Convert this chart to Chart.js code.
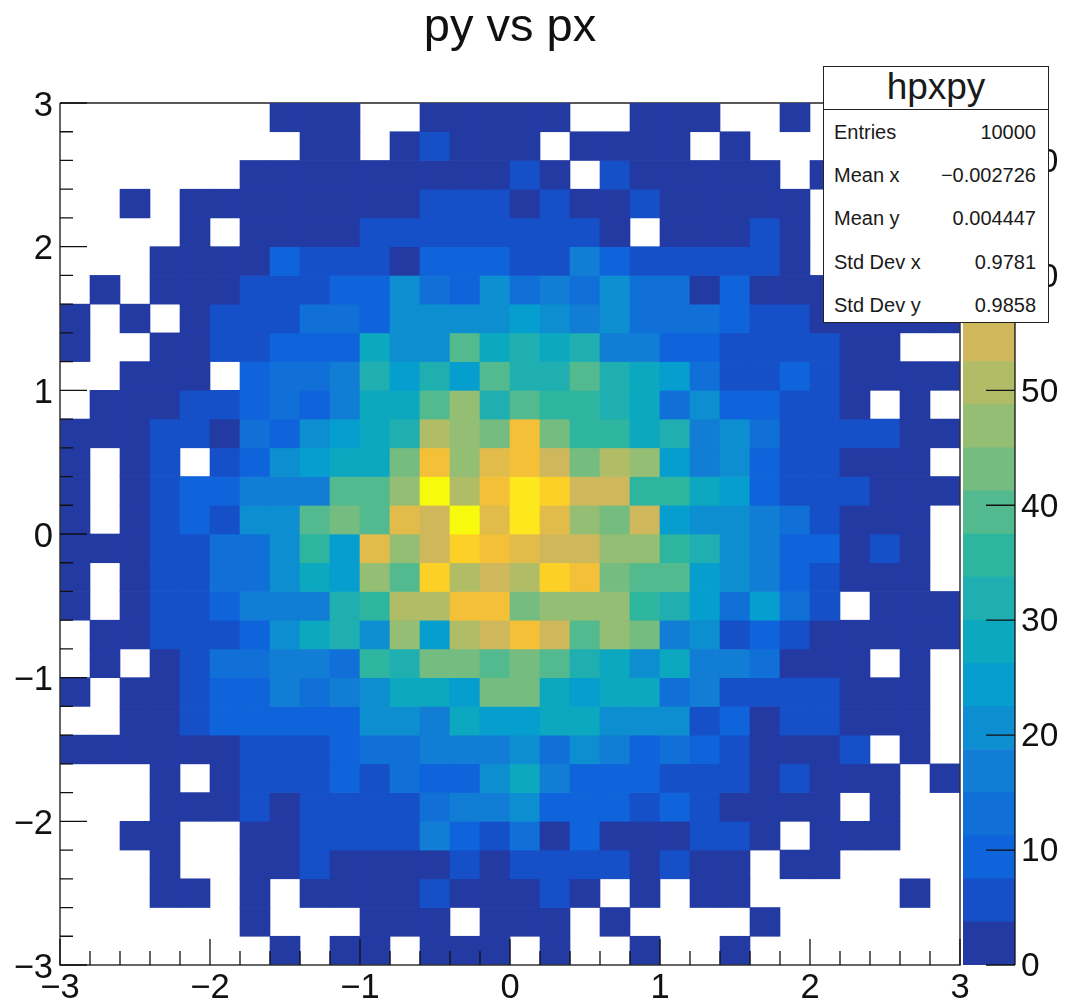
<!DOCTYPE html>
<html>
<head>
<meta charset="utf-8">
<title>py vs px</title>
<script src="https://cdn.jsdelivr.net/npm/chart.js@4"></script>
<style>
  html, body { margin: 0; padding: 0; background: #fff; }
  #wrap { position: relative; width: 1067px; height: 1005px; overflow: hidden; font-family: "Liberation Sans", sans-serif; color: #1a1a1a; }
  canvas { position: absolute; top: 0; display: block; }
  #hist { left: 0; }
  #palette { left: 963px; }
  #stats { position: absolute; left: 823px; top: 66px; width: 226px; height: 257px; background: #fff; border: 1.5px solid #222; box-sizing: border-box; z-index: 5; }
  #stats .name { position: absolute; left: 0; right: 0; top: 0; height: 42px; line-height: 39px; border-bottom: 1.5px solid #222; text-align: center; font-size: 37px; }
  #stats .row { position: absolute; left: 10px; right: 12px; height: 24px; line-height: 24px; font-size: 20px; display: flex; justify-content: space-between; }
</style>
</head>
<body>
<div id="wrap">
  <canvas id="hist" width="1067" height="1005"></canvas>
  <canvas id="palette" width="104" height="1005"></canvas>
  <div id="stats"></div>
</div>
<script>
var title = 'py vs px';
var histName = 'hpxpy';
var statLabels = ['Entries', 'Mean x', 'Mean y', 'Std Dev x', 'Std Dev y'];
var statValues = ['10000', '\u22120.002726', '0.004447', '0.9781', '0.9858'];

// bin edges of both axes
var xEdges = [-3, -2.8, -2.6, -2.4, -2.2, -2, -1.8, -1.6, -1.4, -1.2, -1, -0.8, -0.6, -0.4, -0.2, 0, 0.2, 0.4, 0.6, 0.8, 1, 1.2, 1.4, 1.6, 1.8, 2, 2.2, 2.4, 2.6, 2.8, 3];
var yEdges = [3, 2.8, 2.6, 2.4, 2.2, 2, 1.8, 1.6, 1.4, 1.2, 1, 0.8, 0.6, 0.4, 0.2, 0, -0.2, -0.4, -0.6, -0.8, -1, -1.2, -1.4, -1.6, -1.8, -2, -2.2, -2.4, -2.6, -2.8, -3];

// entries per cell, first row is the top of the plot, 0 = empty cell
var counts = [
  [0,0,0,0,0,0,0,2,2,2,0,0,2,2,2,2,2,0,0,2,2,2,0,0,2,0,0,0,0,0],
  [0,0,0,0,0,0,0,0,2,2,0,2,5,2,2,2,0,2,2,2,2,0,2,0,0,0,0,0,0,0],
  [0,0,0,0,0,0,2,2,2,2,2,2,2,2,2,5,2,0,5,2,2,2,2,2,0,2,0,0,0,0],
  [0,0,2,0,2,2,2,2,2,2,2,2,5,5,5,2,5,2,2,5,2,2,2,2,2,0,0,0,0,0],
  [0,0,0,0,2,0,2,2,2,2,5,5,5,5,5,5,5,5,2,0,2,2,2,5,2,0,0,0,0,0],
  [0,0,0,2,2,2,2,9,5,5,5,2,9,9,9,5,5,17,9,5,5,5,5,5,2,0,0,0,0,0],
  [0,2,0,2,2,2,5,5,5,9,9,20,13,9,20,13,17,13,20,13,13,2,9,2,2,2,2,2,2,2],
  [2,0,2,0,2,5,5,5,13,13,9,20,20,20,20,24,20,17,20,13,13,13,9,5,5,2,2,2,2,2],
  [2,0,0,2,2,5,5,9,9,9,28,20,20,39,28,32,28,32,17,17,9,9,5,5,5,5,2,2,0,0],
  [0,0,2,2,2,0,9,13,13,17,32,24,32,24,39,32,32,39,32,28,24,13,5,5,9,5,2,2,2,2],
  [0,2,2,2,5,5,9,13,9,17,28,28,39,47,32,39,35,35,32,28,13,20,9,9,5,5,2,0,2,0],
  [2,2,2,5,5,2,13,9,20,24,28,32,50,47,43,62,43,35,35,28,32,17,20,13,5,5,5,5,2,2],
  [2,0,2,5,0,5,9,20,24,28,28,43,62,47,58,62,54,43,50,47,24,17,20,9,5,5,2,2,2,0],
  [2,0,2,5,9,9,17,17,17,39,39,47,73,50,62,69,65,54,54,35,35,28,24,9,5,5,5,2,2,2],
  [2,0,2,5,9,5,20,20,39,43,39,58,54,73,58,69,58,47,43,54,24,20,20,17,13,5,2,2,2,0],
  [2,2,2,5,5,13,13,20,35,24,58,47,54,65,62,58,54,54,47,47,35,32,20,17,9,9,2,5,2,0],
  [2,0,2,5,5,13,13,20,28,24,47,39,65,50,54,50,65,62,43,39,39,24,20,17,9,5,2,2,2,0],
  [2,0,2,5,5,9,17,17,17,32,35,50,50,62,62,43,47,47,47,35,32,24,13,24,13,5,0,2,2,2],
  [0,2,2,5,5,5,9,20,28,32,20,47,24,50,54,62,54,39,47,43,17,20,5,9,5,2,2,2,2,2],
  [0,2,0,2,5,13,13,17,17,13,35,32,43,43,39,43,39,32,28,20,28,17,17,13,2,2,2,0,2,0],
  [2,0,2,2,5,9,9,17,13,17,20,28,28,24,43,43,28,24,28,28,13,17,5,5,5,5,2,2,2,0],
  [0,0,2,2,5,9,9,9,9,9,20,20,17,28,24,24,28,28,20,20,20,5,9,2,5,5,2,2,2,0],
  [2,2,2,2,2,2,5,5,5,9,13,13,17,17,17,20,13,20,17,9,13,9,5,2,2,2,5,0,2,0],
  [0,0,0,2,0,2,5,5,5,9,5,13,9,9,20,28,17,9,9,9,5,5,5,2,5,2,2,2,0,2],
  [0,0,0,2,2,2,5,2,5,5,5,5,13,17,17,20,9,9,9,5,9,5,2,2,2,2,0,2,0,0],
  [0,0,2,2,0,0,2,2,5,5,5,5,17,9,5,13,2,9,2,2,2,5,5,2,0,2,2,2,0,0],
  [0,0,0,2,0,0,2,2,5,2,2,2,2,5,2,5,5,5,5,2,5,2,2,0,2,2,0,0,0,0],
  [0,0,0,2,2,0,2,0,2,2,2,2,5,2,2,2,5,2,0,2,0,2,2,0,0,0,0,0,2,0],
  [0,0,0,0,0,0,2,0,0,0,2,2,2,0,2,2,2,0,2,0,0,0,0,2,0,0,0,0,0,0],
  [0,0,0,0,0,0,0,2,0,2,2,0,2,2,2,0,2,0,0,2,0,0,2,0,0,0,0,0,0,0]
];

// colour bar contours and their colours
var levels = [0, 3.75, 7.5, 11.25, 15, 18.75, 22.5, 26.25, 30, 33.75, 37.5, 41.25, 45, 48.75, 52.5, 56.25, 60, 63.75, 67.5, 71.25, 75];
var levelColors = ['#243aa3', '#1550c8', '#0f63db', '#1170d8', '#127dd4', '#0d8ed0', '#069ecf', '#0ca8bf', '#1fafb1', '#2eb5a0',
  '#53ba8f', '#75bc81', '#94be74', '#b0bc66', '#cfb75c', '#e2bc4a', '#f3c038', '#fdd028', '#fce81c', '#f8fa0d'];

var FONT = '"Liberation Sans", sans-serif';
var TICK_COLOR = '#111';

function colorForCount(n) {
  for (var k = 0; k < levelColors.length; k++) {
    if (n < levels[k + 1]) return levelColors[k];
  }
  return levelColors[levelColors.length - 1];
}

function isMajor(v) {
  return Math.abs(v - Math.round(v)) < 1e-6;
}

function axisLabel(v) {
  if (!isMajor(v)) return '';
  var r = Math.round(v);
  return r < 0 ? '\u2212' + (-r) : String(r);
}

var rowDatasets = counts.map(function (row, r) {
  var cells = [];
  row.forEach(function (n, c) {
    if (n > 0) {
      cells.push({x: (xEdges[c] + xEdges[c + 1]) / 2, y: [yEdges[r + 1], yEdges[r]], count: n});
    }
  });
  return {
    data: cells,
    backgroundColor: function (ctx) { return colorForCount(ctx.raw.count); },
    borderWidth: 0,
    grouped: false,
    categoryPercentage: 1,
    barPercentage: 1
  };
});

// ROOT draws its ticks inside the frame
var frameTicks = {
  id: 'frameTicks',
  beforeDatasetsDraw: function (chart) {
    var a = chart.chartArea, ctx = chart.ctx;
    ctx.save();
    ctx.strokeStyle = '#222';
    ctx.lineWidth = 1.5;
    ctx.beginPath();
    ctx.moveTo(a.left, a.top);
    ctx.lineTo(a.right, a.top);
    ctx.stroke();
    ctx.restore();
  },
  afterDatasetsDraw: function (chart) {
    var a = chart.chartArea, ctx = chart.ctx;
    ctx.save();
    ctx.strokeStyle = '#333';
    ctx.lineWidth = 1.5;
    ctx.beginPath();
    ctx.moveTo(a.left, a.top);
    ctx.lineTo(a.left, a.bottom);
    ctx.lineTo(a.right, a.bottom);
    ctx.lineTo(a.right, a.top);
    ctx.stroke();
    ctx.strokeStyle = TICK_COLOR;
    ctx.lineWidth = 1.3;
    ctx.beginPath();
    chart.scales.x.ticks.forEach(function (t) {
      var px = chart.scales.x.getPixelForValue(t.value);
      ctx.moveTo(px, a.bottom);
      ctx.lineTo(px, a.bottom - (isMajor(t.value) ? 26 : 14));
    });
    chart.scales.y.ticks.forEach(function (t) {
      var py = chart.scales.y.getPixelForValue(t.value);
      ctx.moveTo(a.left, py);
      ctx.lineTo(a.left + (isMajor(t.value) ? 27 : 13), py);
    });
    ctx.stroke();
    ctx.restore();
  }
};

new Chart(document.getElementById('hist'), {
  type: 'bar',
  data: {datasets: rowDatasets},
  plugins: [frameTicks],
  options: {
    responsive: false,
    animation: false,
    events: [],
    layout: {padding: {right: 107, left: 0, top: 0, bottom: 0}},
    plugins: {
      legend: {display: false},
      tooltip: {enabled: false},
      title: {
        display: true,
        text: title,
        fullSize: false,
        color: '#111',
        font: {family: FONT, size: 47, weight: 'normal', lineHeight: 1.2},
        padding: {top: 0, bottom: 46.6}
      }
    },
    scales: {
      x: {
        type: 'linear',
        min: -3,
        max: 3,
        offset: false,
        afterFit: function (scale) { scale.height = 40; },
        grid: {display: false, drawTicks: false},
        border: {display: false},
        ticks: {
          stepSize: 0.2,
          autoSkip: false,
          maxRotation: 0,
          padding: 3,
          color: '#111',
          font: {family: FONT, size: 34.5},
          callback: axisLabel
        }
      },
      y: {
        type: 'linear',
        min: -3,
        max: 3,
        afterFit: function (scale) { scale.width = 60; },
        grid: {display: false, drawTicks: false},
        border: {display: false},
        ticks: {
          stepSize: 0.2,
          autoSkip: false,
          padding: 7,
          labelOffset: 3,
          color: '#111',
          font: {family: FONT, size: 34.5},
          callback: axisLabel
        }
      }
    }
  }
});

var paletteTicks = {
  id: 'paletteTicks',
  afterDatasetsDraw: function (chart) {
    var a = chart.chartArea, ctx = chart.ctx;
    ctx.save();
    ctx.strokeStyle = TICK_COLOR;
    ctx.lineWidth = 1.3;
    ctx.beginPath();
    ctx.moveTo(a.right, a.top);
    ctx.lineTo(a.right, a.bottom);
    chart.scales.y.ticks.forEach(function (t) {
      var py = chart.scales.y.getPixelForValue(t.value);
      ctx.moveTo(a.right, py);
      ctx.lineTo(a.right - 29, py);
    });
    ctx.stroke();
    ctx.restore();
  }
};

new Chart(document.getElementById('palette'), {
  type: 'bar',
  data: {
    labels: [''],
    datasets: levelColors.map(function (c, k) {
      return {
        data: [[levels[k], levels[k + 1]]],
        backgroundColor: c,
        borderWidth: 0,
        grouped: false,
        categoryPercentage: 1,
        barPercentage: 1
      };
    })
  },
  plugins: [paletteTicks],
  options: {
    responsive: false,
    animation: false,
    events: [],
    layout: {padding: {top: 103, bottom: 40, left: 0, right: 0}},
    plugins: {legend: {display: false}, tooltip: {enabled: false}},
    scales: {
      x: {display: false},
      y: {
        position: 'right',
        min: 0,
        max: 75,
        afterFit: function (scale) { scale.width = 52; },
        grid: {display: false, drawTicks: false},
        border: {display: false},
        ticks: {
          stepSize: 10,
          includeBounds: false,
          padding: 6,
          labelOffset: 2,
          color: '#111',
          font: {family: FONT, size: 33.5}
        }
      }
    }
  }
});

// stats box
var stats = document.getElementById('stats');
var nameEl = document.createElement('div');
nameEl.className = 'name';
nameEl.textContent = histName;
stats.appendChild(nameEl);
var rowCenters = [65, 108, 151, 195, 238];
statLabels.forEach(function (label, i) {
  var row = document.createElement('div');
  row.className = 'row';
  row.style.top = (rowCenters[i] - 12) + 'px';
  var l = document.createElement('span');
  l.textContent = label;
  var v = document.createElement('span');
  v.textContent = statValues[i];
  row.appendChild(l);
  row.appendChild(v);
  stats.appendChild(row);
});
</script>
</body>
</html>
